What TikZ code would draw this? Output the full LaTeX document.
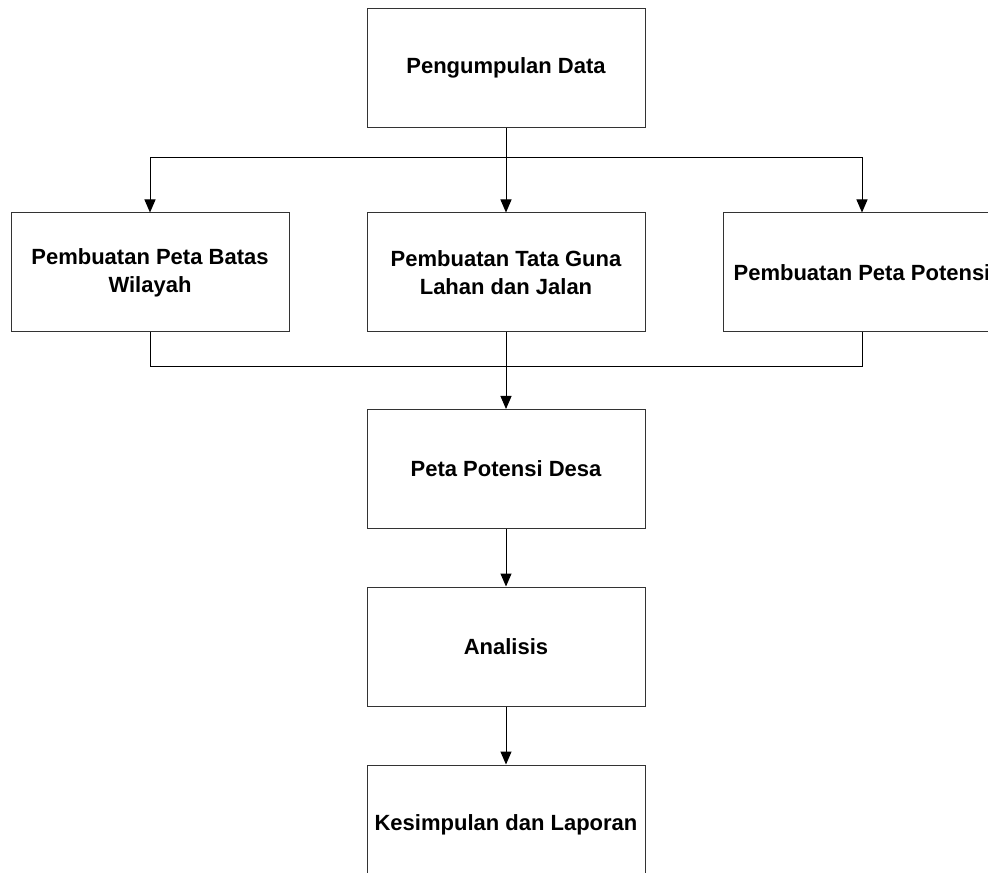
\documentclass[tikz,border=0pt]{standalone}
\usepackage{fontspec}
\setmainfont{Liberation Sans}
\usetikzlibrary{arrows.meta,calc}

\tikzset{
  kotak/.style={draw=black!80, line width=1pt, minimum width=278pt, minimum height=119pt,
    align=center, font=\fontsize{22}{28}\selectfont\bfseries},
  panah/.style={-{Triangle[width=11pt,length=13pt]}, line width=1pt}
}

\begin{document}
\begin{tikzpicture}[x=1pt,y=-1pt]
  \useasboundingbox (0,0) rectangle (988,882);
  \clip (0,0) rectangle (988,872);

  % kotak-kotak
  \node[kotak] (kumpul) at (506,68) {Pengumpulan Data};
  \node[kotak] (batas) at (150,272.5) {Pembuatan Peta Batas\\Wilayah};
  \node[kotak] (guna) at (506,272.5) {Pembuatan Tata Guna\\Lahan dan Jalan};
  \node[kotak] (potensi) at (862,272.5) {Pembuatan Peta Potensi};
  \node[kotak] (desa) at (506,469) {Peta Potensi Desa};
  \node[kotak] (analisis) at (506,646.5) {Analisis};
  \node[kotak] (simpul) at (506,824.5) {Kesimpulan dan Laporan};

  % cabang dan gabung
  \coordinate (cabang) at ($(kumpul.south)!0.35!(guna.north)$);
  \coordinate (gabung) at ($(guna.south)!0.45!(desa.north)$);

  \draw[panah] (kumpul.south) -- (guna.north);
  \draw[panah] (cabang) -| (batas.north);
  \draw[panah] (cabang) -| (potensi.north);
  \draw[line width=1pt] (batas.south) |- (gabung) -| (potensi.south);
  \draw[panah] (guna.south) -- (desa.north);
  \draw[panah] (desa.south) -- (analisis.north);
  \draw[panah] (analisis.south) -- (simpul.north);
\end{tikzpicture}
\end{document}
